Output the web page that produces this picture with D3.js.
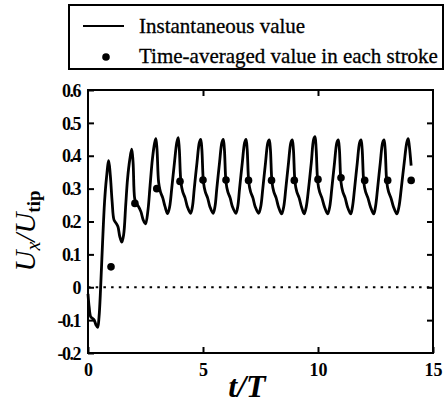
<!DOCTYPE html>
<html><head><meta charset="utf-8">
<script src="https://cdn.jsdelivr.net/npm/d3@7"></script>
<style>body{margin:0;background:#fff}svg{display:block}</style>
</head><body>
<svg id="c" width="445" height="405"></svg>
<script>
// Instantaneous value U_x/U_tip vs t/T
const instT = [0.0,0.05,0.12,0.2,0.27,0.35,0.42,0.48,0.55,0.63,0.72,0.8,0.9,0.97,1.05,1.13,1.22,1.3,1.38,1.47,1.55,1.64,1.72,1.82,1.9,1.96,2.03,2.1,2.2,2.3,2.4,2.5,2.6,2.7,2.8,2.9,2.95,3.0,3.07,3.15,3.25,3.35,3.46,
3.55,3.64,3.76,3.86,3.92,3.97,4.04,4.12,4.22,4.32,4.46,
4.54,4.62,4.74,4.84,4.9,4.95,5.02,5.1,5.2,5.3,5.44,
5.52,5.6,5.72,5.82,5.88,5.93,6.0,6.08,6.18,6.28,6.43,
6.51,6.59,6.71,6.81,6.87,6.92,6.99,7.07,7.17,7.27,7.42,
7.51,7.6,7.72,7.82,7.88,7.93,8.0,8.08,8.18,8.28,8.42,
8.51,8.6,8.72,8.82,8.88,8.93,9.0,9.08,9.18,9.28,9.4,
9.49,9.59,9.71,9.81,9.87,9.92,9.99,10.07,10.17,10.28,10.42,
10.51,10.6,10.72,10.82,10.88,10.93,11.0,11.08,11.18,11.28,11.42,
11.5,11.59,11.71,11.81,11.87,11.92,11.99,12.07,12.17,12.28,12.42,
12.5,12.59,12.71,12.81,12.87,12.92,12.99,13.07,13.17,13.28,13.43,
13.52,13.62,13.75,13.86,13.92,13.97,14.05];
const instU = [-0.02,-0.06,-0.09,-0.095,-0.1,-0.115,-0.122,-0.09,0.0,0.13,0.26,0.33,0.385,0.34,0.26,0.205,0.195,0.185,0.155,0.137,0.16,0.25,0.33,0.39,0.42,0.38,0.27,0.255,0.245,0.23,0.205,0.193,0.23,0.31,0.39,0.44,0.452,0.42,0.32,0.29,0.272,0.245,0.224,
0.245,0.30,0.38,0.44,0.455,0.42,0.32,0.29,0.272,0.245,0.225,
0.245,0.30,0.38,0.44,0.45,0.42,0.32,0.29,0.272,0.245,0.225,
0.245,0.30,0.38,0.44,0.45,0.42,0.32,0.29,0.272,0.245,0.225,
0.245,0.30,0.38,0.44,0.45,0.42,0.32,0.29,0.272,0.245,0.225,
0.245,0.30,0.38,0.44,0.448,0.42,0.32,0.29,0.272,0.245,0.223,
0.245,0.30,0.38,0.44,0.448,0.42,0.32,0.29,0.272,0.245,0.223,
0.245,0.30,0.38,0.45,0.458,0.42,0.32,0.29,0.272,0.245,0.223,
0.245,0.30,0.38,0.44,0.448,0.42,0.32,0.29,0.272,0.245,0.223,
0.245,0.30,0.38,0.44,0.448,0.42,0.32,0.29,0.272,0.245,0.223,
0.245,0.30,0.38,0.44,0.448,0.42,0.32,0.29,0.272,0.245,0.223,
0.245,0.30,0.38,0.44,0.452,0.43,0.37];
// Time-averaged value in each stroke
const avgT = [1.0,2.04,2.99,4.0,5.0,6.0,6.98,7.98,8.97,10.0,11.0,12.03,13.03,14.05];
const avgU = [0.062,0.255,0.30,0.322,0.326,0.326,0.325,0.325,0.325,0.328,0.333,0.325,0.325,0.325];
const xTicks = [0,5,10,15];
const xTickLabels = ["0","5","10","15"];
const yTicks = [-0.2,-0.1,0,0.1,0.2,0.3,0.4,0.5,0.6];
const yTickLabels = ["-0.2","-0.1","0","0.1","0.2","0.3","0.4","0.5","0.6"];
const legendLabels = ["Instantaneous value","Time-averaged value in each stroke"];

const svg = d3.select("#c");
const L=88,R=433,T=90,B=353;
const x = d3.scaleLinear().domain([0,15]).range([L,R]);
const y = d3.scaleLinear().domain([-0.2,0.6]).range([B,T]);
const serif = "'Liberation Serif','Times New Roman',serif";

// zero dotted line
svg.append("line").attr("x1",x(0)).attr("x2",x(15)).attr("y1",y(0)).attr("y2",y(0))
  .attr("stroke","#000").attr("stroke-width",2).attr("stroke-dasharray","2.5,5.2");

// curve
const pts = instT.map((t,i)=>[t,instU[i]]);
svg.append("path").datum(pts)
  .attr("d",d3.line().x(d=>x(d[0])).y(d=>y(d[1])).curve(d3.curveCatmullRom.alpha(0.5)))
  .attr("fill","none").attr("stroke","#000").attr("stroke-width",2.8).attr("stroke-linejoin","round");

// dots
svg.selectAll("circle.avg").data(avgT.map((t,i)=>[t,avgU[i]])).enter().append("circle")
  .attr("class","avg").attr("cx",d=>x(d[0])).attr("cy",d=>y(d[1])).attr("r",3.8).attr("fill","#000");

// frame
svg.append("rect").attr("x",L).attr("y",T).attr("width",R-L).attr("height",B-T)
  .attr("fill","none").attr("stroke","#000").attr("stroke-width",2);

// axes with inward ticks
const axL = d3.axisLeft(y).tickValues(yTicks).tickSize(-6).tickPadding(8).tickFormat((d,i)=>yTickLabels[i]);
const gL = svg.append("g").attr("transform",`translate(${L},0)`).call(axL);
const axR = d3.axisRight(y).tickValues(yTicks.slice(1,-1)).tickSize(-6).tickFormat("");
const gR = svg.append("g").attr("transform",`translate(${R},0)`).call(axR);
const axB = d3.axisBottom(x).tickValues(xTicks).tickSize(-6).tickPadding(9).tickFormat((d,i)=>xTickLabels[i]);
const gB = svg.append("g").attr("transform",`translate(0,${B})`).call(axB);
const axT = d3.axisTop(x).tickValues([5,10]).tickSize(-6).tickFormat("");
const gT = svg.append("g").attr("transform",`translate(0,${T})`).call(axT);
[gL,gR,gB,gT].forEach(g=>{
  g.select(".domain").remove();
  g.selectAll("line").attr("stroke","#000").attr("stroke-width",2);
  g.selectAll("text").attr("fill","#000").style("font-family",serif).style("font-size","18px").style("font-weight","bold");
});
gL.selectAll("text").style("letter-spacing","-1.5px").attr("dy","0.34em");
gB.selectAll("text").attr("dy","0.75em");

// axis labels
const yl = svg.append("text").attr("transform","translate(35,231) rotate(-90)")
  .attr("text-anchor","middle").style("font-family",serif).style("font-size","29px").attr("fill","#000");
yl.append("tspan").style("font-style","italic").text("U");
yl.append("tspan").style("font-style","italic").style("font-size","20px").attr("dy","5").text("x");
yl.append("tspan").style("font-style","italic").attr("dy","-5").text("/U");
yl.append("tspan").style("font-size","19px").style("font-weight","bold").attr("dy","5").text("tip");

svg.append("text").attr("x",247).attr("y",397).attr("text-anchor","middle")
  .style("font-family",serif).style("font-size","32px").style("font-style","italic").style("font-weight","bold")
  .attr("fill","#000").text("t/T");

// legend
svg.append("rect").attr("x",69).attr("y",5).attr("width",374).attr("height",64)
  .attr("fill","none").attr("stroke","#000").attr("stroke-width",2);
svg.append("line").attr("x1",83).attr("x2",124).attr("y1",26).attr("y2",26).attr("stroke","#000").attr("stroke-width",1.8);
svg.append("circle").attr("cx",106).attr("cy",57).attr("r",3.8).attr("fill","#000");
svg.append("text").attr("x",139).attr("y",33).style("font-family",serif).style("font-size","21px")
  .attr("fill","#000").attr("stroke","#000").attr("stroke-width",0.3).text(legendLabels[0]);
svg.append("text").attr("x",139).attr("y",63).style("font-family",serif).style("font-size","21px")
  .attr("fill","#000").attr("stroke","#000").attr("stroke-width",0.3).text(legendLabels[1]);
</script>
</body></html>
